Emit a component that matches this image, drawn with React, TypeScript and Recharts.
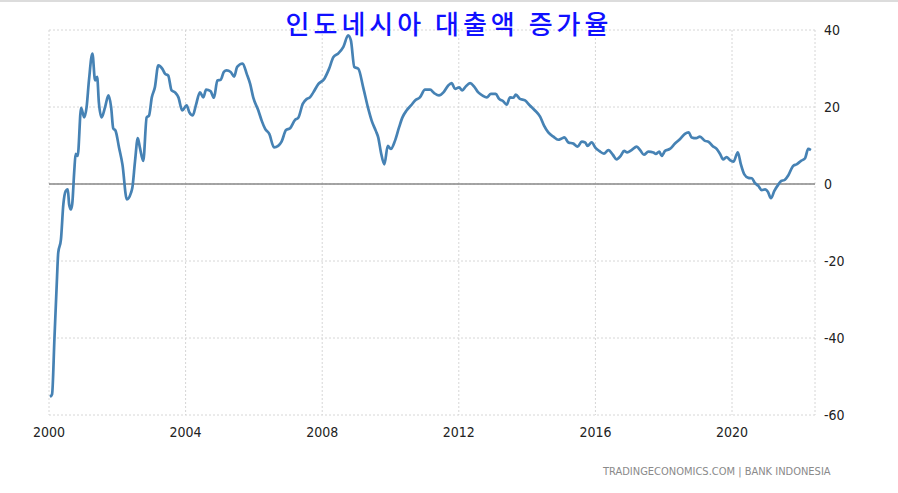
import { LineChart, Line, XAxis, YAxis, CartesianGrid, ReferenceLine } from "recharts"

// decimal year of each reading
const years = [
  2000.03, 2000.09, 2000.16, 2000.23, 2000.27, 2000.35, 2000.42, 2000.49, 2000.55, 2000.59,
  2000.64, 2000.68, 2000.74, 2000.78, 2000.84, 2000.94, 2001.03, 2001.1, 2001.17, 2001.27,
  2001.35, 2001.41, 2001.46, 2001.54, 2001.64, 2001.74, 2001.82, 2001.88, 2001.95, 2002.05,
  2002.15, 2002.28, 2002.4, 2002.44, 2002.52, 2002.6, 2002.66, 2002.76, 2002.86, 2002.93,
  2003.01, 2003.1, 2003.2, 2003.32, 2003.4, 2003.49, 2003.59, 2003.69, 2003.79, 2003.9,
  2004.03, 2004.11, 2004.21, 2004.3, 2004.42, 2004.52, 2004.6, 2004.73, 2004.83, 2004.93,
  2005.03, 2005.12, 2005.2, 2005.32, 2005.42, 2005.51, 2005.67, 2005.79, 2005.89, 2005.98,
  2006.13, 2006.23, 2006.33, 2006.45, 2006.59, 2006.71, 2006.81, 2006.94, 2007.06, 2007.2,
  2007.3, 2007.43, 2007.55, 2007.64, 2007.74, 2007.89, 2008.06, 2008.2, 2008.33, 2008.47,
  2008.62, 2008.76, 2008.84, 2008.94, 2009.06, 2009.2, 2009.35, 2009.45, 2009.57, 2009.64,
  2009.72, 2009.82, 2009.92, 2010.01, 2010.13, 2010.25, 2010.35, 2010.47, 2010.6, 2010.72,
  2010.86, 2011.01, 2011.16, 2011.28, 2011.42, 2011.55, 2011.69, 2011.79, 2011.89, 2012.01,
  2012.1, 2012.2, 2012.33, 2012.45, 2012.57, 2012.69, 2012.82, 2012.94, 2013.08, 2013.18,
  2013.3, 2013.4, 2013.5, 2013.6, 2013.67, 2013.79, 2013.94, 2014.08, 2014.23, 2014.38,
  2014.5, 2014.62, 2014.77, 2014.91, 2015.01, 2015.09, 2015.21, 2015.35, 2015.48, 2015.6,
  2015.7, 2015.77, 2015.89, 2016.01, 2016.11, 2016.25, 2016.38, 2016.51, 2016.62, 2016.74,
  2016.84, 2016.93, 2017.06, 2017.21, 2017.31, 2017.42, 2017.55, 2017.7, 2017.77, 2017.87,
  2017.94, 2018.04, 2018.18, 2018.33, 2018.48, 2018.62, 2018.73, 2018.82, 2018.95, 2019.06,
  2019.21, 2019.31, 2019.43, 2019.55, 2019.65, 2019.74, 2019.84, 2019.94, 2020.04, 2020.17,
  2020.26, 2020.36, 2020.48, 2020.58, 2020.67, 2020.77, 2020.87, 2020.97, 2021.05, 2021.14,
  2021.24, 2021.36, 2021.44, 2021.53, 2021.65, 2021.79, 2021.89, 2022.02, 2022.14, 2022.23,
  2022.31,
]

// loan growth, % y/y
const growth = [
  -55.3, -54.6, -40, -25.3, -17.9, -14.4, -5.3, -1.8, -1.4, -5.3,
  -6.6, -5.2, 3.4, 7.8, 7.3, 19.8, 17.3, 19.9, 26.9, 33.9,
  26.9, 27.8, 21.2, 17.3, 19.9, 23, 19.9, 14.5, 13.8, 9.5,
  5.1, -4, -2.3, -1, 6, 11.9, 9.5, 6, 17.3, 17.8,
  22.5, 25.1, 30.8, 29.9, 28.6, 28.2, 24.3, 23.8, 22.5, 19.1,
  20.4, 18.6, 17.8, 20.4, 23.8, 22.5, 24.5, 24.1, 22.4, 26.9,
  27.1, 29.1, 29.5, 29.1, 27.9, 30.4, 31.3, 28.6, 26, 22.5,
  19.1, 16.4, 14.3, 13, 9.5, 9.9, 11, 14, 14.5, 16.6,
  17.2, 20.8, 22.1, 22.5, 23.8, 26, 27.3, 29.9, 33, 33.9,
  35.6, 38.6, 37.3, 30.4, 29.9, 25.1, 19.5, 16.4, 13.8, 12.1,
  8.2, 5.1, 9.9, 9.1, 11.2, 14.7, 17.3, 19.1, 20.4, 21.7,
  22.5, 24.5, 24.5, 23.6, 23, 23.8, 25.6, 26.2, 24.7, 25.1,
  24.3, 25.3, 26.2, 25.3, 23.8, 23, 22.5, 23.4, 23.4, 22.1,
  21.5, 20.6, 22.5, 22.4, 23.2, 22.1, 21.7, 20.4, 19.1, 17.5,
  15.1, 13.4, 12.3, 11.5, 11.8, 12.1, 10.8, 10.5, 9.7, 11,
  10.8, 9.9, 10.8, 9.3, 8.6, 7.9, 8.8, 7.6, 6.4, 7.3,
  8.6, 8.2, 8.8, 9.7, 8.8, 7.6, 8.4, 8.2, 7.8, 8.4,
  7.3, 8.6, 9.1, 10.5, 11.7, 13, 13.4, 12.1, 11.9, 12.3,
  11.2, 11, 9.9, 9.1, 7.8, 6.4, 7, 6.2, 5.8, 8.2,
  5.1, 2.5, 1.6, 1.5, 0.3, -0.5, -1.6, -1.4, -2, -3.7,
  -1.8, -0.1, 0.8, 1, 2.3, 4.7, 5.1, 6, 6.7, 9.1,
  8.8,
]

const xTicks = [2000, 2004, 2008, 2012, 2016, 2020]
const yTicks = [-60, -40, -20, 0, 20, 40]

const data = years.map((t, i) => ({ t, v: growth[i] }))

const tickFont = {
  fontFamily: "'Liberation Sans Narrow', 'Arial Narrow', 'DejaVu Sans Condensed', sans-serif",
  fontSize: 14,
  fill: "#222",
}

export default function App() {
  return (
    <div
      style={{
        position: "absolute",
        left: 0,
        top: 0,
        width: 898,
        height: 493,
        background: "#fff",
        borderTop: "2px solid #dcdcdc",
        boxSizing: "border-box",
      }}>
      <div
        style={{
          position: "absolute",
          left: 0,
          width: 898,
          top: 3,
          textAlign: "center",
          fontFamily: "'Noto Sans CJK KR', sans-serif",
          fontSize: 26,
          fontWeight: 500,
          letterSpacing: 4,
          color: "#1010ff",
          zIndex: 2,
          lineHeight: "36px",
        }}>
        인도네시아 대출액 증가율
      </div>
      <LineChart
        width={898}
        height={491}
        data={data}
        margin={{ top: 28, right: 0, left: 49, bottom: 48 }}>
        <CartesianGrid
          stroke="#d6d6d6"
          strokeDasharray="2 2"
        />
        <XAxis
          dataKey="t"
          type="number"
          domain={[2000, 2022.43]}
          ticks={xTicks}
          axisLine={false}
          tickLine={false}
          tickMargin={6}
          height={30}
          tick={tickFont}
        />
        <YAxis
          orientation="right"
          domain={[-60, 40]}
          ticks={yTicks}
          axisLine={false}
          tickLine={false}
          tickMargin={3}
          width={83}
          tick={tickFont}
        />
        <ReferenceLine
          y={0}
          stroke="#888"
          strokeWidth={1.5}
        />
        <Line
          dataKey="v"
          type="monotone"
          stroke="#4682b4"
          strokeWidth={2.7}
          dot={false}
          isAnimationActive={false}
        />
      </LineChart>
      <div
        style={{
          position: "absolute",
          left: 603,
          top: 463,
          fontFamily: "'DejaVu Sans Condensed', 'Liberation Sans Narrow', sans-serif",
          fontSize: 11,
          color: "#8a8a8a",
          whiteSpace: "nowrap",
        }}>
        TRADINGECONOMICS.COM | BANK INDONESIA
      </div>
    </div>
  )
}
